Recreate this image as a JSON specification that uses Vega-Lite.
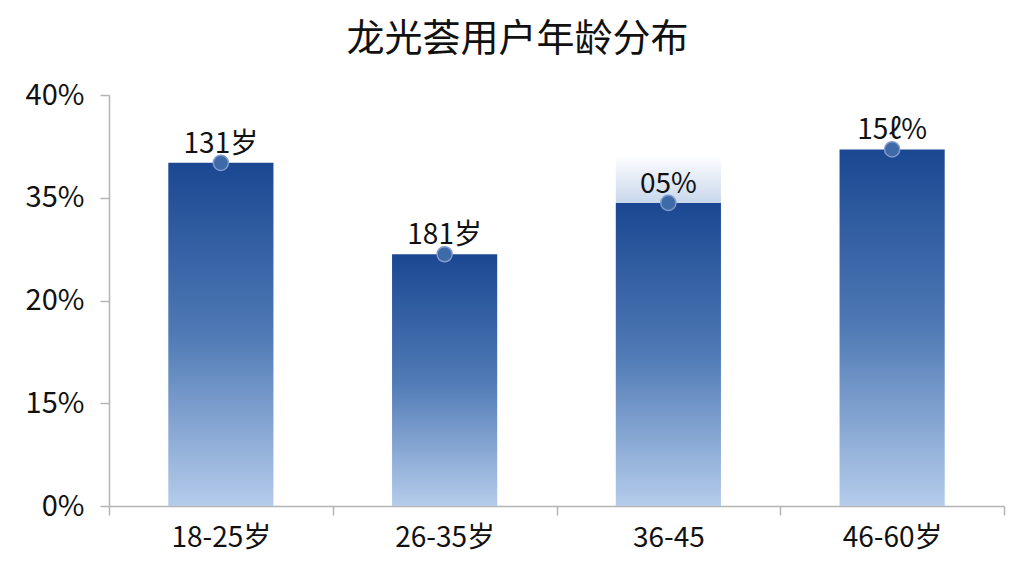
{
  "$schema": "https://vega.github.io/schema/vega-lite/v6.json",
  "width": 895,
  "height": 411,
  "autosize": {"type": "none"},
  "padding": {"left": 109, "top": 95, "right": 20, "bottom": 70},
  "background": "#ffffff",
  "view": {"stroke": null},
  "title": {
    "text": "龙光荟用户年龄分布",
    "font": "Noto Sans CJK SC",
    "fontSize": 38,
    "fontWeight": "normal",
    "color": "#111111",
    "anchor": "middle",
    "dx": -39,
    "offset": 22
  },
  "data": {
    "values": [
      {"age": "18-25岁", "value": 33.4, "label": "131岁"},
      {"age": "26-35岁", "value": 24.5, "label": "181岁"},
      {"age": "36-45", "value": 29.5, "label": "05%", "halo": 34.2},
      {"age": "46-60岁", "value": 34.7, "label": "15ℓ%"}
    ]
  },
  "encoding": {
    "x": {
      "field": "age",
      "type": "nominal",
      "sort": ["18-25岁", "26-35岁", "36-45", "46-60岁"],
      "scale": {"paddingInner": 0, "paddingOuter": 0},
      "axis": {
        "title": null,
        "labelAngle": 0,
        "labelFont": "Noto Sans CJK SC",
        "labelFontSize": 28,
        "labelColor": "#111111",
        "labelPadding": 9,
        "domainColor": "#b5b5b5",
        "domainWidth": 1.5,
        "tickBand": "extent",
        "tickColor": "#b5b5b5",
        "tickWidth": 1.5,
        "tickSize": 9
      }
    }
  },
  "layer": [
    {
      "transform": [{"filter": "datum.halo != null"}],
      "mark": {
        "type": "bar",
        "width": {"band": 0.47},
        "fill": {
          "gradient": "linear", "x1": 0, "y1": 0, "x2": 0, "y2": 1,
          "stops": [
            {"offset": 0, "color": "#ffffff"},
            {"offset": 1, "color": "#c9d7ec"}
          ]
        }
      },
      "encoding": {
        "y": {"field": "value", "type": "quantitative"},
        "y2": {"field": "halo"}
      }
    },
    {
      "mark": {
        "type": "bar",
        "width": {"band": 0.47},
        "fill": {
          "gradient": "linear", "x1": 0, "y1": 0, "x2": 0, "y2": 1,
          "stops": [
            {"offset": 0, "color": "#1b4792"},
            {"offset": 0.5, "color": "#4f7ab5"},
            {"offset": 1, "color": "#b5cceb"}
          ]
        }
      },
      "encoding": {
        "y": {
          "field": "value",
          "type": "quantitative",
          "scale": {"domain": [0, 40], "nice": false},
          "axis": {
            "title": null,
            "values": [0, 10, 20, 30, 40],
            "labelExpr": "datum.value == 0 ? '0%' : datum.value == 10 ? '15%' : datum.value == 20 ? '20%' : datum.value == 30 ? '35%' : '40%'",
            "labelFont": "Noto Sans CJK SC",
            "labelFontSize": 29,
            "labelColor": "#111111",
            "labelPadding": 16,
            "grid": false,
            "domainColor": "#b5b5b5",
            "domainWidth": 1.5,
            "tickColor": "#b5b5b5",
            "tickWidth": 1.5,
            "tickSize": 9
          }
        }
      }
    },
    {
      "mark": {"type": "point", "filled": true, "size": 230, "color": "#3f6aa8", "stroke": "#7d9bcc", "strokeWidth": 1.5, "opacity": 1},
      "encoding": {"y": {"field": "value", "type": "quantitative"}}
    },
    {
      "mark": {"type": "text", "font": "Noto Sans CJK SC", "fontSize": 28, "color": "#111111", "baseline": "bottom", "dy": -4},
      "encoding": {
        "y": {"field": "value", "type": "quantitative"},
        "text": {"field": "label"}
      }
    }
  ]
}
